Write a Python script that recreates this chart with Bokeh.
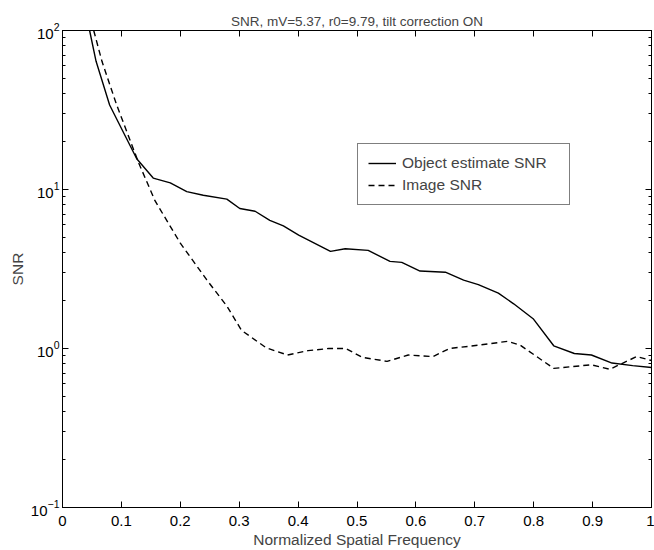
from bokeh.plotting import figure
from bokeh.models import (LinearAxis, LogAxis, FixedTicker, LogTicker, Range1d,
                          Legend, LegendItem, CustomJSTickFormatter)
from bokeh.embed import file_html
from bokeh.resources import INLINE

# ---- data ----
obj_x = [0.046, 0.057, 0.080, 0.126, 0.154, 0.183, 0.211, 0.239, 0.279, 0.301,
         0.327, 0.352, 0.375, 0.401, 0.455, 0.480, 0.519, 0.556, 0.576, 0.607,
         0.650, 0.681, 0.706, 0.740, 0.766, 0.799, 0.834, 0.869, 0.898, 0.933,
         0.968, 1.000]
obj_y = [100, 64, 34, 15.6, 11.8, 11.0, 9.7, 9.2, 8.7, 7.6,
         7.3, 6.4, 5.9, 5.17, 4.08, 4.24, 4.14, 3.53, 3.48, 3.07,
         3.02, 2.69, 2.52, 2.23, 1.91, 1.54, 1.04, 0.93, 0.91, 0.81,
         0.78, 0.76]

img_x = [0.053, 0.067, 0.092, 0.129, 0.157, 0.200, 0.245, 0.279, 0.304, 0.346,
         0.382, 0.417, 0.452, 0.481, 0.509, 0.551, 0.587, 0.629, 0.657, 0.707,
         0.756, 0.777, 0.834, 0.898, 0.929, 0.975, 1.000]
img_y = [100, 64, 34, 14.8, 8.5, 4.6, 2.7, 1.85, 1.3, 1.01,
         0.91, 0.97, 1.00, 1.00, 0.88, 0.83, 0.91, 0.89, 1.00, 1.05,
         1.11, 1.05, 0.75, 0.79, 0.74, 0.89, 0.84]

x_ticks = [0, 0.1, 0.2, 0.3, 0.4, 0.5, 0.6, 0.7, 0.8, 0.9, 1.0]
x_tick_labels = ["0", "0.1", "0.2", "0.3", "0.4", "0.5", "0.6", "0.7", "0.8", "0.9", "1"]

title_text = "SNR, mV=5.37, r0=9.79, tilt correction ON"
x_label = "Normalized Spatial Frequency"
y_label = "SNR"
series_names = ["Object estimate SNR", "Image SNR"]

FONT = "Liberation Sans"

p = figure(width=654, height=550, y_axis_type="log",
           x_range=Range1d(0, 1), y_range=Range1d(0.1, 100),
           output_backend="svg", toolbar_location=None,
           min_border_left=62, min_border_right=3, min_border_top=30,
           min_border_bottom=40, background_fill_color="white",
           border_fill_color="white")

p.title.text = title_text
p.title.align = "center"
p.title.text_font = FONT
p.title.text_font_size = "13.5px"
p.title.text_font_style = "normal"
p.title.standoff = 4

p.grid.visible = False
p.outline_line_color = "black"
p.outline_line_width = 1

def style_axis(ax):
    ax.axis_line_color = "black"
    ax.major_tick_in = 6
    ax.major_tick_out = 0
    ax.minor_tick_in = 3
    ax.minor_tick_out = 0
    ax.major_tick_line_color = "black"
    ax.minor_tick_line_color = "black"
    ax.major_label_text_font = FONT
    ax.major_label_text_font_size = "15px"
    ax.major_label_text_color = "black"
    ax.axis_label_text_font = FONT
    ax.axis_label_text_font_size = "15.5px"
    ax.axis_label_text_font_style = "normal"

xa = p.xaxis[0]
xa.ticker = FixedTicker(ticks=x_ticks)
xa.major_label_overrides = {t: l for t, l in zip(x_ticks, x_tick_labels)}
xa.axis_label = x_label
style_axis(xa)
xa.major_label_standoff = 8
xa.axis_label_standoff = 2

ya = p.yaxis[0]
ya.ticker = LogTicker(num_minor_ticks=10)
ya.axis_label = y_label
style_axis(ya)
ya.major_label_standoff = 3
ya.axis_label_standoff = 2

blank = CustomJSTickFormatter(code="return ''")
top = LinearAxis(ticker=FixedTicker(ticks=x_ticks), formatter=blank)
style_axis(top)
top.major_label_standoff = 0
p.add_layout(top, "above")
right = LogAxis(ticker=LogTicker(num_minor_ticks=10), formatter=blank)
style_axis(right)
right.major_label_standoff = 0
p.add_layout(right, "right")

r1 = p.line(obj_x, obj_y, line_color="black", line_width=1.4)
r2 = p.line(img_x, img_y, line_color="black", line_width=1.4, line_dash="6 4")

legend = Legend(items=[LegendItem(label=series_names[0], renderers=[r1]),
                       LegendItem(label=series_names[1], renderers=[r2])],
                location=(295, 302))
legend.label_text_font = FONT
legend.label_text_font_size = "15.5px"
legend.glyph_width = 28
legend.glyph_height = 16
legend.label_height = 16
legend.label_width = 157
legend.spacing = 4
legend.padding = 10
legend.margin = 0
legend.label_standoff = 6
legend.border_line_color = "black"
legend.border_line_width = 1
legend.background_fill_color = "white"
legend.background_fill_alpha = 1
p.add_layout(legend, "center")

open("out.html", "w").write(file_html(p, INLINE))
